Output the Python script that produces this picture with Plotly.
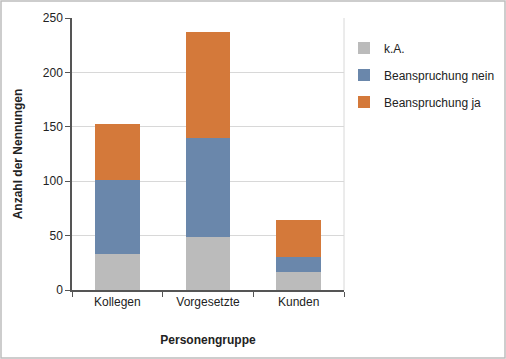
import plotly.graph_objects as go

categories = ["Kollegen", "Vorgesetzte", "Kunden"]
ka = [33, 49, 17]
nein = [68, 91, 13]
ja = [52, 97, 34]
series_names = ["k.A.", "Beanspruchung nein", "Beanspruchung ja"]
colors = ["#BBBBBB", "#6A87AB", "#D4793A"]

FONT = "Liberation Sans, Arial, sans-serif"

fig = go.Figure()
for i, (name, vals, col) in enumerate(zip(series_names, [ka, nein, ja], colors)):
    fig.add_trace(go.Bar(x=categories, y=vals, name=name, legendgroup=f"g{i}",
                         marker=dict(color=col, line=dict(width=0)), width=0.49))

L, R, T, B = 72, 162, 18, 69
W, H = 506, 359
pw, ph = W - L - R, H - T - B

fig.update_layout(
    width=W, height=H,
    margin=dict(l=L, r=R, t=T, b=B, autoexpand=False),
    barmode="stack",
    plot_bgcolor="white", paper_bgcolor="white",
    font=dict(family=FONT, size=12, color="#222"),
    showlegend=True,
    legend=dict(x=(344 - L) / pw, y=(ph - 15.5) / ph, xanchor="left", yanchor="top",
                traceorder="grouped", font=dict(size=12, color="#222"),
                tracegroupgap=8, itemwidth=30, bgcolor="rgba(0,0,0,0)"),
    xaxis=dict(showline=True, linecolor="#555", linewidth=1.5, ticks="outside", tickson="boundaries",
               ticklen=5, tickcolor="#555", showgrid=False,
               title=dict(text="<b>Personengruppe</b>", font=dict(size=12), standoff=27),
               tickfont=dict(size=12)),
    yaxis=dict(range=[0, 250], dtick=50, showline=True, linecolor="#555", linewidth=1.5,
               ticks="outside", ticklen=5, tickcolor="#555", showgrid=True, gridcolor="#D8D8D8",
               zeroline=False,
               title=dict(text="<b>Anzahl der Nennungen</b>", font=dict(size=12), standoff=18),
               tickfont=dict(size=12)),
    shapes=[
        dict(type="line", xref="paper", yref="paper", x0=1, x1=1, y0=0, y1=1,
             line=dict(color="#D8D8D8", width=1)),
        dict(type="rect", xref="paper", yref="paper",
             x0=(1 - L) / pw, x1=(W - 1 - L) / pw,
             y0=-(B - 1) / ph, y1=(ph + T - 1) / ph,
             line=dict(color="#BDBDBD", width=1.5), layer="below"),
    ],
)

fig.write_html("out.html", config={"displayModeBar": False},
               post_script="document.body.style.margin='0';document.body.style.padding='0';")
